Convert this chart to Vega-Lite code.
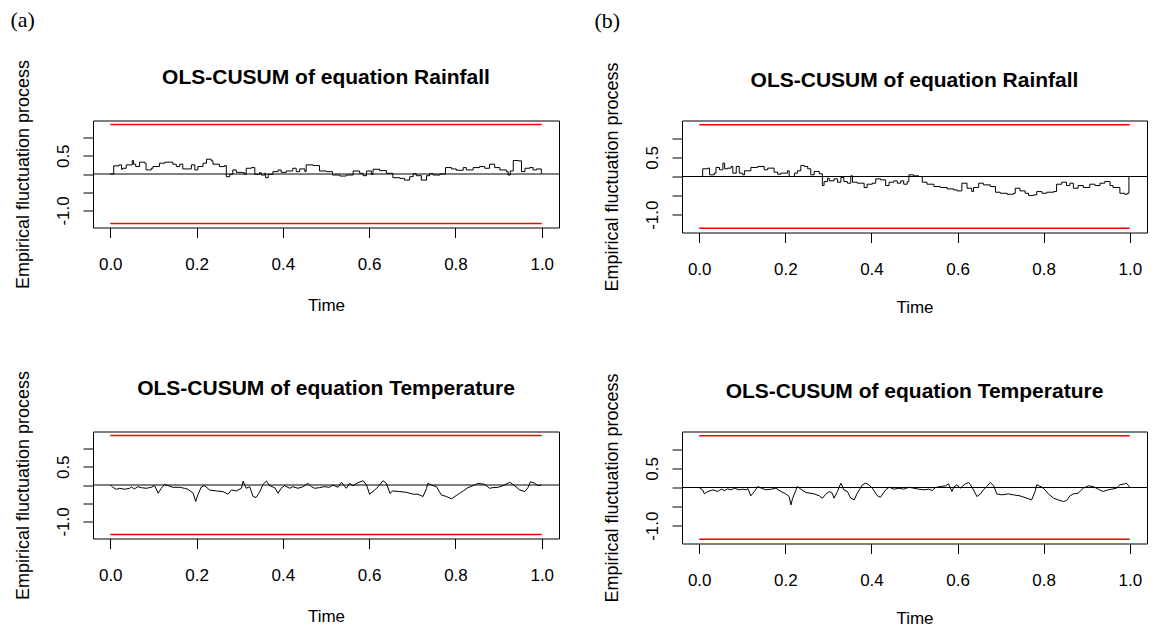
{
  "$schema": "https://vega.github.io/schema/vega-lite/v6.json",
  "padding": {"left": 10, "top": 8.5, "right": 0, "bottom": 0},
  "background": "white",
  "config": {
    "view": {"stroke": "black", "strokeWidth": 1},
    "axis": {"grid": false, "domain": false, "tickColor": "black", "tickSize": 10, "labelColor": "black", "titleColor": "black", "labelFont": "Liberation Sans", "titleFont": "Liberation Sans", "labelFontSize": 17, "titleFontSize": 17, "titleFontWeight": "normal", "labelOverlap": false},
    "axisY": {"titleFontSize": 18},
    "title": {"font": "Liberation Sans", "fontSize": 21, "fontWeight": "bold", "color": "black"}
  },
  "datasets": {
    "bounds": [{"t": 0, "t2": 1, "v": 1.358}, {"t": 0, "t2": 1, "v": -1.358}],
    "zero": [{"v": 0}],
    "rainA": [{"t":0,"v":0},{"t":0.004,"v":0},{"t":0.008,"v":0.222},{"t":0.020,"v":0.250},{"t":0.026,"v":0.130},{"t":0.029,"v":0.157},{"t":0.037,"v":0.250},{"t":0.051,"v":0.370},{"t":0.054,"v":0.269},{"t":0.059,"v":0.204},{"t":0.068,"v":0.324},{"t":0.080,"v":0.296},{"t":0.083,"v":0.111},{"t":0.095,"v":0.157},{"t":0.099,"v":0.204},{"t":0.114,"v":0.296},{"t":0.126,"v":0.324},{"t":0.145,"v":0.269},{"t":0.153,"v":0.204},{"t":0.161,"v":0.269},{"t":0.168,"v":0.139},{"t":0.188,"v":0.250},{"t":0.196,"v":0.111},{"t":0.203,"v":0.204},{"t":0.215,"v":0.296},{"t":0.223,"v":0.407},{"t":0.234,"v":0.361},{"t":0.238,"v":0.269},{"t":0.253,"v":0.204},{"t":0.265,"v":0.231},{"t":0.269,"v":-0.074},{"t":0.277,"v":-0.009},{"t":0.284,"v":0.111},{"t":0.292,"v":0.046},{"t":0.304,"v":0.037},{"t":0.311,"v":-0.009},{"t":0.315,"v":0.157},{"t":0.327,"v":0.176},{"t":0.335,"v":-0.009},{"t":0.346,"v":0.037},{"t":0.350,"v":-0.028},{"t":0.358,"v":0.019},{"t":0.360,"v":-0.102},{"t":0.366,"v":-0.009},{"t":0.377,"v":0.065},{"t":0.389,"v":0.111},{"t":0.396,"v":0.046},{"t":0.408,"v":0.083},{"t":0.423,"v":0.157},{"t":0.431,"v":0.065},{"t":0.439,"v":0.139},{"t":0.451,"v":0.065},{"t":0.454,"v":0.250},{"t":0.470,"v":0.231},{"t":0.485,"v":0.083},{"t":0.501,"v":0.065},{"t":0.515,"v":-0.028},{"t":0.532,"v":-0.056},{"t":0.547,"v":-0.028},{"t":0.563,"v":0.083},{"t":0.578,"v":0.019},{"t":0.586,"v":-0.046},{"t":0.594,"v":0.083},{"t":0.605,"v":-0.009},{"t":0.609,"v":0.130},{"t":0.624,"v":0.093},{"t":0.640,"v":0.019},{"t":0.655,"v":-0.102},{"t":0.671,"v":-0.120},{"t":0.682,"v":-0.167},{"t":0.694,"v":-0.074},{"t":0.702,"v":0.009},{"t":0.709,"v":-0.046},{"t":0.721,"v":-0.167},{"t":0.733,"v":-0.046},{"t":0.740,"v":0.009},{"t":0.748,"v":-0.028},{"t":0.764,"v":0.000},{"t":0.777,"v":0.176},{"t":0.791,"v":0.139},{"t":0.802,"v":0.102},{"t":0.818,"v":0.176},{"t":0.825,"v":0.111},{"t":0.841,"v":0.176},{"t":0.856,"v":0.204},{"t":0.868,"v":0.157},{"t":0.879,"v":0.269},{"t":0.891,"v":0.176},{"t":0.903,"v":0.111},{"t":0.918,"v":0.065},{"t":0.922,"v":-0.028},{"t":0.927,"v":0.083},{"t":0.934,"v":0.370},{"t":0.945,"v":0.361},{"t":0.953,"v":0.065},{"t":0.961,"v":0.157},{"t":0.972,"v":0.176},{"t":0.980,"v":0.111},{"t":0.988,"v":0.139},{"t":0.999,"v":0.019},{"t":1.0,"v":0.019}],
    "rainB": [{"t":0,"v":0},{"t":0.005,"v":0},{"t":0.008,"v":0.202},{"t":0.020,"v":0.219},{"t":0.024,"v":0.044},{"t":0.035,"v":0.088},{"t":0.039,"v":0.237},{"t":0.047,"v":0.175},{"t":0.055,"v":0.351},{"t":0.059,"v":0.202},{"t":0.066,"v":0.219},{"t":0.074,"v":0.263},{"t":0.078,"v":0.088},{"t":0.086,"v":0.263},{"t":0.093,"v":0.088},{"t":0.101,"v":0.044},{"t":0.105,"v":0.149},{"t":0.120,"v":0.237},{"t":0.136,"v":0.263},{"t":0.151,"v":0.175},{"t":0.159,"v":0.219},{"t":0.174,"v":0.114},{"t":0.182,"v":0.061},{"t":0.190,"v":0.088},{"t":0.205,"v":0.149},{"t":0.209,"v":0.000},{"t":0.221,"v":0.088},{"t":0.228,"v":0.149},{"t":0.236,"v":0.289},{"t":0.244,"v":0.263},{"t":0.252,"v":0.202},{"t":0.259,"v":0.044},{"t":0.267,"v":0.132},{"t":0.279,"v":0.070},{"t":0.286,"v":-0.237},{"t":0.290,"v":-0.132},{"t":0.298,"v":-0.044},{"t":0.302,"v":-0.114},{"t":0.313,"v":-0.061},{"t":0.321,"v":-0.149},{"t":0.329,"v":-0.026},{"t":0.336,"v":-0.132},{"t":0.344,"v":-0.175},{"t":0.352,"v":0.018},{"t":0.356,"v":-0.149},{"t":0.367,"v":-0.175},{"t":0.383,"v":-0.289},{"t":0.390,"v":-0.202},{"t":0.402,"v":-0.175},{"t":0.410,"v":-0.061},{"t":0.421,"v":-0.088},{"t":0.433,"v":-0.237},{"t":0.441,"v":-0.149},{"t":0.452,"v":-0.114},{"t":0.460,"v":-0.175},{"t":0.468,"v":-0.114},{"t":0.475,"v":-0.202},{"t":0.483,"v":-0.132},{"t":0.487,"v":0.044},{"t":0.498,"v":0.018},{"t":0.510,"v":0.000},{"t":0.518,"v":-0.149},{"t":0.529,"v":-0.202},{"t":0.545,"v":-0.263},{"t":0.560,"v":-0.289},{"t":0.576,"v":-0.325},{"t":0.591,"v":-0.351},{"t":0.599,"v":-0.377},{"t":0.610,"v":-0.175},{"t":0.622,"v":-0.307},{"t":0.633,"v":-0.395},{"t":0.637,"v":-0.289},{"t":0.649,"v":-0.175},{"t":0.660,"v":-0.219},{"t":0.676,"v":-0.263},{"t":0.688,"v":-0.412},{"t":0.699,"v":-0.439},{"t":0.715,"v":-0.465},{"t":0.730,"v":-0.439},{"t":0.734,"v":-0.307},{"t":0.745,"v":-0.377},{"t":0.757,"v":-0.439},{"t":0.765,"v":-0.500},{"t":0.776,"v":-0.482},{"t":0.784,"v":-0.395},{"t":0.796,"v":-0.439},{"t":0.807,"v":-0.412},{"t":0.823,"v":-0.395},{"t":0.830,"v":-0.202},{"t":0.842,"v":-0.149},{"t":0.853,"v":-0.237},{"t":0.861,"v":-0.175},{"t":0.869,"v":-0.307},{"t":0.880,"v":-0.237},{"t":0.892,"v":-0.289},{"t":0.907,"v":-0.202},{"t":0.919,"v":-0.237},{"t":0.931,"v":-0.175},{"t":0.942,"v":-0.132},{"t":0.954,"v":-0.237},{"t":0.961,"v":-0.289},{"t":0.977,"v":-0.439},{"t":0.988,"v":-0.465},{"t":0.994,"v":-0.439},{"t":0.998,"v":0.000},{"t":1.0,"v":0.000}],
    "tempA": [{"t":0,"v":0},{"t":0.002,"v":-0.018},{"t":0.006,"v":-0.063},{"t":0.014,"v":-0.117},{"t":0.022,"v":-0.090},{"t":0.033,"v":-0.117},{"t":0.045,"v":-0.090},{"t":0.049,"v":-0.054},{"t":0.056,"v":-0.108},{"t":0.064,"v":-0.045},{"t":0.072,"v":-0.072},{"t":0.083,"v":-0.090},{"t":0.095,"v":-0.063},{"t":0.103,"v":-0.018},{"t":0.111,"v":-0.226},{"t":0.118,"v":-0.090},{"t":0.126,"v":0.018},{"t":0.134,"v":-0.018},{"t":0.145,"v":-0.063},{"t":0.161,"v":-0.063},{"t":0.172,"v":-0.090},{"t":0.180,"v":-0.117},{"t":0.192,"v":-0.226},{"t":0.198,"v":-0.452},{"t":0.203,"v":-0.271},{"t":0.211,"v":-0.054},{"t":0.219,"v":-0.018},{"t":0.230,"v":-0.136},{"t":0.246,"v":-0.163},{"t":0.261,"v":-0.181},{"t":0.273,"v":-0.253},{"t":0.281,"v":-0.136},{"t":0.292,"v":-0.163},{"t":0.304,"v":-0.090},{"t":0.308,"v":0.108},{"t":0.315,"v":-0.090},{"t":0.323,"v":-0.045},{"t":0.331,"v":-0.316},{"t":0.338,"v":-0.343},{"t":0.346,"v":-0.199},{"t":0.354,"v":0.018},{"t":0.362,"v":0.108},{"t":0.369,"v":-0.018},{"t":0.381,"v":-0.072},{"t":0.389,"v":-0.226},{"t":0.396,"v":-0.090},{"t":0.404,"v":-0.018},{"t":0.416,"v":-0.090},{"t":0.423,"v":-0.045},{"t":0.435,"v":-0.090},{"t":0.447,"v":-0.045},{"t":0.458,"v":0.045},{"t":0.466,"v":-0.045},{"t":0.474,"v":-0.090},{"t":0.485,"v":-0.072},{"t":0.497,"v":-0.045},{"t":0.508,"v":-0.063},{"t":0.516,"v":0.000},{"t":0.528,"v":-0.063},{"t":0.536,"v":0.072},{"t":0.547,"v":-0.090},{"t":0.555,"v":0.045},{"t":0.563,"v":-0.018},{"t":0.574,"v":0.063},{"t":0.586,"v":0.117},{"t":0.594,"v":0.000},{"t":0.601,"v":-0.253},{"t":0.613,"v":-0.136},{"t":0.621,"v":-0.045},{"t":0.632,"v":0.117},{"t":0.640,"v":0.045},{"t":0.648,"v":-0.226},{"t":0.655,"v":-0.163},{"t":0.671,"v":-0.181},{"t":0.686,"v":-0.199},{"t":0.702,"v":-0.253},{"t":0.713,"v":-0.253},{"t":0.725,"v":-0.316},{"t":0.733,"v":-0.090},{"t":0.736,"v":0.045},{"t":0.748,"v":-0.018},{"t":0.756,"v":-0.045},{"t":0.767,"v":-0.271},{"t":0.779,"v":-0.316},{"t":0.791,"v":-0.379},{"t":0.802,"v":-0.289},{"t":0.810,"v":-0.226},{"t":0.818,"v":-0.163},{"t":0.829,"v":-0.072},{"t":0.841,"v":-0.018},{"t":0.852,"v":0.045},{"t":0.868,"v":0.018},{"t":0.879,"v":-0.090},{"t":0.887,"v":-0.072},{"t":0.899,"v":-0.063},{"t":0.910,"v":-0.018},{"t":0.926,"v":0.072},{"t":0.937,"v":-0.018},{"t":0.949,"v":-0.136},{"t":0.961,"v":-0.181},{"t":0.968,"v":-0.072},{"t":0.974,"v":0.090},{"t":0.984,"v":0.045},{"t":0.991,"v":-0.018},{"t":0.999,"v":0.000}],
    "tempB": [{"t":0,"v":0},{"t":0.001,"v":-0.018},{"t":0.008,"v":-0.061},{"t":0.012,"v":-0.167},{"t":0.020,"v":-0.105},{"t":0.032,"v":-0.061},{"t":0.043,"v":-0.105},{"t":0.051,"v":-0.044},{"t":0.059,"v":-0.079},{"t":0.066,"v":-0.035},{"t":0.074,"v":-0.061},{"t":0.082,"v":-0.018},{"t":0.093,"v":-0.061},{"t":0.101,"v":-0.044},{"t":0.109,"v":-0.061},{"t":0.113,"v":-0.026},{"t":0.120,"v":-0.219},{"t":0.128,"v":-0.105},{"t":0.136,"v":0.026},{"t":0.144,"v":-0.018},{"t":0.155,"v":-0.061},{"t":0.167,"v":-0.044},{"t":0.178,"v":-0.018},{"t":0.190,"v":-0.105},{"t":0.201,"v":-0.167},{"t":0.209,"v":-0.237},{"t":0.213,"v":-0.456},{"t":0.217,"v":-0.281},{"t":0.225,"v":-0.061},{"t":0.228,"v":0.026},{"t":0.236,"v":-0.044},{"t":0.248,"v":-0.132},{"t":0.267,"v":-0.167},{"t":0.279,"v":-0.219},{"t":0.286,"v":-0.281},{"t":0.294,"v":-0.175},{"t":0.302,"v":-0.105},{"t":0.309,"v":-0.149},{"t":0.313,"v":-0.281},{"t":0.321,"v":-0.105},{"t":0.329,"v":0.114},{"t":0.336,"v":-0.061},{"t":0.344,"v":-0.105},{"t":0.352,"v":-0.281},{"t":0.360,"v":-0.325},{"t":0.367,"v":-0.149},{"t":0.379,"v":0.070},{"t":0.387,"v":0.114},{"t":0.394,"v":0.070},{"t":0.402,"v":-0.018},{"t":0.414,"v":-0.219},{"t":0.421,"v":-0.254},{"t":0.433,"v":-0.061},{"t":0.441,"v":0.009},{"t":0.452,"v":-0.044},{"t":0.464,"v":-0.018},{"t":0.475,"v":-0.044},{"t":0.487,"v":0.009},{"t":0.498,"v":-0.018},{"t":0.510,"v":-0.044},{"t":0.522,"v":-0.061},{"t":0.533,"v":-0.044},{"t":0.541,"v":-0.079},{"t":0.549,"v":0.000},{"t":0.560,"v":0.026},{"t":0.572,"v":0.044},{"t":0.579,"v":0.096},{"t":0.587,"v":-0.105},{"t":0.591,"v":0.009},{"t":0.599,"v":0.070},{"t":0.606,"v":-0.018},{"t":0.618,"v":0.096},{"t":0.626,"v":0.132},{"t":0.630,"v":0.070},{"t":0.637,"v":-0.061},{"t":0.645,"v":-0.237},{"t":0.653,"v":-0.167},{"t":0.660,"v":-0.061},{"t":0.668,"v":0.026},{"t":0.676,"v":0.132},{"t":0.684,"v":0.044},{"t":0.691,"v":-0.167},{"t":0.703,"v":-0.193},{"t":0.718,"v":-0.167},{"t":0.730,"v":-0.193},{"t":0.745,"v":-0.219},{"t":0.761,"v":-0.281},{"t":0.772,"v":-0.325},{"t":0.780,"v":-0.105},{"t":0.784,"v":0.070},{"t":0.796,"v":0.009},{"t":0.803,"v":-0.061},{"t":0.811,"v":-0.167},{"t":0.823,"v":-0.281},{"t":0.834,"v":-0.325},{"t":0.846,"v":-0.368},{"t":0.853,"v":-0.342},{"t":0.861,"v":-0.219},{"t":0.869,"v":-0.167},{"t":0.880,"v":-0.149},{"t":0.892,"v":-0.018},{"t":0.904,"v":0.044},{"t":0.915,"v":0.026},{"t":0.927,"v":-0.044},{"t":0.938,"v":-0.105},{"t":0.950,"v":-0.061},{"t":0.958,"v":-0.044},{"t":0.969,"v":-0.018},{"t":0.977,"v":0.070},{"t":0.988,"v":0.096},{"t":0.992,"v":0.114},{"t":1.0,"v":0.009}]
  },
  "hconcat": [
    {
      "title": {"text": "(a)", "anchor": "start", "font": "Liberation Serif", "fontSize": 22, "fontWeight": "normal", "dx": -3, "baseline": "alphabetic", "offset": 10},
      "bounds": "flush",
      "spacing": 204,
      "vconcat": [
        {
          "width": 466, "height": 107,
          "title": {"text": "OLS-CUSUM of equation Rainfall", "baseline": "alphabetic", "frame": "group", "offset": -46},
          "layer": [
            {"data": {"name": "bounds"}, "mark": {"type": "rule", "color": "#FF0000", "strokeWidth": 1.5},
             "encoding": {
               "x": {"field": "t", "type": "quantitative", "scale": {"domain": [-0.04, 1.04], "nice": false, "zero": false}, "axis": {"values": [0, 0.2, 0.4, 0.6, 0.8, 1], "format": ".1f", "labelPadding": 19, "titlePadding": 25, "labelOverlap": false}, "title": "Time"},
               "x2": {"field": "t2"},
               "y": {"field": "v", "type": "quantitative", "scale": {"domain": [-1.467, 1.467], "nice": false, "zero": false}, "axis": {"values": [-1, -0.5, 0, 0.5, 1], "labelExpr": "datum.value > 0.4 && datum.value < 0.6 ? '0.5' : datum.value < -0.9 ? '-1.0' : ''", "labelAngle": -90, "labelPadding": 11, "titlePadding": 22, "labelOverlap": false}, "title": "Empirical fluctuation process"}
             }},
            {"data": {"name": "zero"}, "mark": {"type": "rule", "color": "black", "strokeWidth": 1}, "encoding": {"y": {"field": "v", "type": "quantitative", "axis": {"values": [-1, -0.5, 0, 0.5, 1], "labelExpr": "datum.value > 0.4 && datum.value < 0.6 ? '0.5' : datum.value < -0.9 ? '-1.0' : ''", "labelAngle": -90, "labelPadding": 11, "titlePadding": 22, "labelOverlap": false}, "title": "Empirical fluctuation process"}}},
            {"data": {"name": "rainA"}, "mark": {"type": "line", "color": "black", "strokeWidth": 1, "interpolate": "step-after"},
             "encoding": {
               "x": {"field": "t", "type": "quantitative", "axis": {"values": [0, 0.2, 0.4, 0.6, 0.8, 1], "format": ".1f", "labelPadding": 19, "titlePadding": 25, "labelOverlap": false}, "title": "Time"},
               "y": {"field": "v", "type": "quantitative", "axis": {"values": [-1, -0.5, 0, 0.5, 1], "labelExpr": "datum.value > 0.4 && datum.value < 0.6 ? '0.5' : datum.value < -0.9 ? '-1.0' : ''", "labelAngle": -90, "labelPadding": 11, "titlePadding": 22, "labelOverlap": false}, "title": "Empirical fluctuation process"}
             }}
          ]
        },
        {
          "width": 466, "height": 107,
          "title": {"text": "OLS-CUSUM of equation Temperature", "baseline": "alphabetic", "frame": "group", "offset": -46},
          "layer": [
            {"data": {"name": "bounds"}, "mark": {"type": "rule", "color": "#FF0000", "strokeWidth": 1.5},
             "encoding": {
               "x": {"field": "t", "type": "quantitative", "scale": {"domain": [-0.04, 1.04], "nice": false, "zero": false}, "axis": {"values": [0, 0.2, 0.4, 0.6, 0.8, 1], "format": ".1f", "labelPadding": 19, "titlePadding": 25, "labelOverlap": false}, "title": "Time"},
               "x2": {"field": "t2"},
               "y": {"field": "v", "type": "quantitative", "scale": {"domain": [-1.467, 1.467], "nice": false, "zero": false}, "axis": {"values": [-1, -0.5, 0, 0.5, 1], "labelExpr": "datum.value > 0.4 && datum.value < 0.6 ? '0.5' : datum.value < -0.9 ? '-1.0' : ''", "labelAngle": -90, "labelPadding": 11, "titlePadding": 22, "labelOverlap": false}, "title": "Empirical fluctuation process"}
             }},
            {"data": {"name": "zero"}, "mark": {"type": "rule", "color": "black", "strokeWidth": 1}, "encoding": {"y": {"field": "v", "type": "quantitative", "axis": {"values": [-1, -0.5, 0, 0.5, 1], "labelExpr": "datum.value > 0.4 && datum.value < 0.6 ? '0.5' : datum.value < -0.9 ? '-1.0' : ''", "labelAngle": -90, "labelPadding": 11, "titlePadding": 22, "labelOverlap": false}, "title": "Empirical fluctuation process"}}},
            {"data": {"name": "tempA"}, "mark": {"type": "line", "color": "black", "strokeWidth": 1},
             "encoding": {
               "x": {"field": "t", "type": "quantitative", "axis": {"values": [0, 0.2, 0.4, 0.6, 0.8, 1], "format": ".1f", "labelPadding": 19, "titlePadding": 25, "labelOverlap": false}, "title": "Time"},
               "y": {"field": "v", "type": "quantitative", "axis": {"values": [-1, -0.5, 0, 0.5, 1], "labelExpr": "datum.value > 0.4 && datum.value < 0.6 ? '0.5' : datum.value < -0.9 ? '-1.0' : ''", "labelAngle": -90, "labelPadding": 11, "titlePadding": 22, "labelOverlap": false}, "title": "Empirical fluctuation process"}
             }}
          ]
        }
      ]
    },
    {
      "title": {"text": "(b)", "anchor": "start", "font": "Liberation Serif", "fontSize": 22, "fontWeight": "normal", "dx": -8, "baseline": "alphabetic", "offset": 11.5},
      "bounds": "flush",
      "spacing": 199,
      "vconcat": [
        {
          "width": 465, "height": 112,
          "title": {"text": "OLS-CUSUM of equation Rainfall", "baseline": "alphabetic", "frame": "group", "offset": -46},
          "layer": [
            {"data": {"name": "bounds"}, "mark": {"type": "rule", "color": "#FF0000", "strokeWidth": 1.5},
             "encoding": {
               "x": {"field": "t", "type": "quantitative", "scale": {"domain": [-0.04, 1.04], "nice": false, "zero": false}, "axis": {"values": [0, 0.2, 0.4, 0.6, 0.8, 1], "format": ".1f", "labelPadding": 19, "titlePadding": 22, "labelOverlap": false}, "title": "Time"},
               "x2": {"field": "t2"},
               "y": {"field": "v", "type": "quantitative", "scale": {"domain": [-1.467, 1.467], "nice": false, "zero": false}, "axis": {"values": [-1, -0.5, 0, 0.5, 1], "labelExpr": "datum.value > 0.4 && datum.value < 0.6 ? '0.5' : datum.value < -0.9 ? '-1.0' : ''", "labelAngle": -90, "labelPadding": 11, "titlePadding": 22, "labelOverlap": false}, "title": "Empirical fluctuation process"}
             }},
            {"data": {"name": "zero"}, "mark": {"type": "rule", "color": "black", "strokeWidth": 1}, "encoding": {"y": {"field": "v", "type": "quantitative", "axis": {"values": [-1, -0.5, 0, 0.5, 1], "labelExpr": "datum.value > 0.4 && datum.value < 0.6 ? '0.5' : datum.value < -0.9 ? '-1.0' : ''", "labelAngle": -90, "labelPadding": 11, "titlePadding": 22, "labelOverlap": false}, "title": "Empirical fluctuation process"}}},
            {"data": {"name": "rainB"}, "mark": {"type": "line", "color": "black", "strokeWidth": 1, "interpolate": "step-after"},
             "encoding": {
               "x": {"field": "t", "type": "quantitative", "axis": {"values": [0, 0.2, 0.4, 0.6, 0.8, 1], "format": ".1f", "labelPadding": 19, "titlePadding": 22, "labelOverlap": false}, "title": "Time"},
               "y": {"field": "v", "type": "quantitative", "axis": {"values": [-1, -0.5, 0, 0.5, 1], "labelExpr": "datum.value > 0.4 && datum.value < 0.6 ? '0.5' : datum.value < -0.9 ? '-1.0' : ''", "labelAngle": -90, "labelPadding": 11, "titlePadding": 22, "labelOverlap": false}, "title": "Empirical fluctuation process"}
             }}
          ]
        },
        {
          "width": 465, "height": 112,
          "title": {"text": "OLS-CUSUM of equation Temperature", "baseline": "alphabetic", "frame": "group", "offset": -46},
          "layer": [
            {"data": {"name": "bounds"}, "mark": {"type": "rule", "color": "#FF0000", "strokeWidth": 1.5},
             "encoding": {
               "x": {"field": "t", "type": "quantitative", "scale": {"domain": [-0.04, 1.04], "nice": false, "zero": false}, "axis": {"values": [0, 0.2, 0.4, 0.6, 0.8, 1], "format": ".1f", "labelPadding": 19, "titlePadding": 22, "labelOverlap": false}, "title": "Time"},
               "x2": {"field": "t2"},
               "y": {"field": "v", "type": "quantitative", "scale": {"domain": [-1.467, 1.467], "nice": false, "zero": false}, "axis": {"values": [-1, -0.5, 0, 0.5, 1], "labelExpr": "datum.value > 0.4 && datum.value < 0.6 ? '0.5' : datum.value < -0.9 ? '-1.0' : ''", "labelAngle": -90, "labelPadding": 11, "titlePadding": 22, "labelOverlap": false}, "title": "Empirical fluctuation process"}
             }},
            {"data": {"name": "zero"}, "mark": {"type": "rule", "color": "black", "strokeWidth": 1}, "encoding": {"y": {"field": "v", "type": "quantitative", "axis": {"values": [-1, -0.5, 0, 0.5, 1], "labelExpr": "datum.value > 0.4 && datum.value < 0.6 ? '0.5' : datum.value < -0.9 ? '-1.0' : ''", "labelAngle": -90, "labelPadding": 11, "titlePadding": 22, "labelOverlap": false}, "title": "Empirical fluctuation process"}}},
            {"data": {"name": "tempB"}, "mark": {"type": "line", "color": "black", "strokeWidth": 1},
             "encoding": {
               "x": {"field": "t", "type": "quantitative", "axis": {"values": [0, 0.2, 0.4, 0.6, 0.8, 1], "format": ".1f", "labelPadding": 19, "titlePadding": 22, "labelOverlap": false}, "title": "Time"},
               "y": {"field": "v", "type": "quantitative", "axis": {"values": [-1, -0.5, 0, 0.5, 1], "labelExpr": "datum.value > 0.4 && datum.value < 0.6 ? '0.5' : datum.value < -0.9 ? '-1.0' : ''", "labelAngle": -90, "labelPadding": 11, "titlePadding": 22, "labelOverlap": false}, "title": "Empirical fluctuation process"}
             }}
          ]
        }
      ]
    }
  ],
  "spacing": 34
}
